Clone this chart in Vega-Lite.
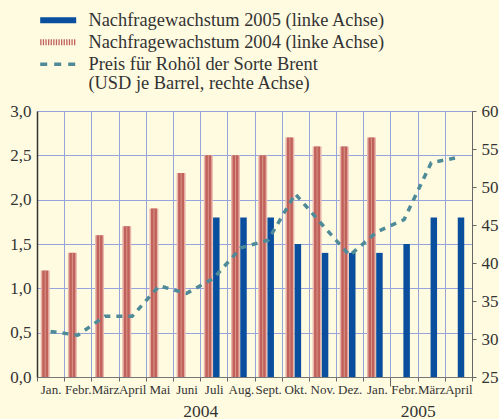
{
  "$schema": "https://vega.github.io/schema/vega-lite/v6.json",
  "width": 435,
  "height": 266,
  "autosize": {"type": "none"},
  "padding": {"left": 37, "top": 111, "right": 27, "bottom": 42},
  "background": "#fffbe1",
  "config": {
    "view": {"stroke": null},
    "font": "Liberation Serif",
    "axis": {"labelFont": "Liberation Serif", "labelColor": "#333333", "titleFont": "Liberation Serif"},
    "legend": {"labelFont": "Liberation Serif"}
  },
  "data": {
    "values": [
      {"month": "Jan. 2004", "series": "Nachfragewachstum 2004 (linke Achse)", "value": 1.2},
      {"month": "Febr. 2004", "series": "Nachfragewachstum 2004 (linke Achse)", "value": 1.4},
      {"month": "März 2004", "series": "Nachfragewachstum 2004 (linke Achse)", "value": 1.6},
      {"month": "April 2004", "series": "Nachfragewachstum 2004 (linke Achse)", "value": 1.7},
      {"month": "Mai 2004", "series": "Nachfragewachstum 2004 (linke Achse)", "value": 1.9},
      {"month": "Juni 2004", "series": "Nachfragewachstum 2004 (linke Achse)", "value": 2.3},
      {"month": "Juli 2004", "series": "Nachfragewachstum 2004 (linke Achse)", "value": 2.5},
      {"month": "Aug. 2004", "series": "Nachfragewachstum 2004 (linke Achse)", "value": 2.5},
      {"month": "Sept. 2004", "series": "Nachfragewachstum 2004 (linke Achse)", "value": 2.5},
      {"month": "Okt. 2004", "series": "Nachfragewachstum 2004 (linke Achse)", "value": 2.7},
      {"month": "Nov. 2004", "series": "Nachfragewachstum 2004 (linke Achse)", "value": 2.6},
      {"month": "Dez. 2004", "series": "Nachfragewachstum 2004 (linke Achse)", "value": 2.6},
      {"month": "Jan. 2005", "series": "Nachfragewachstum 2004 (linke Achse)", "value": 2.7},
      {"month": "Juli 2004", "series": "Nachfragewachstum 2005 (linke Achse)", "value": 1.8},
      {"month": "Aug. 2004", "series": "Nachfragewachstum 2005 (linke Achse)", "value": 1.8},
      {"month": "Sept. 2004", "series": "Nachfragewachstum 2005 (linke Achse)", "value": 1.8},
      {"month": "Okt. 2004", "series": "Nachfragewachstum 2005 (linke Achse)", "value": 1.5},
      {"month": "Nov. 2004", "series": "Nachfragewachstum 2005 (linke Achse)", "value": 1.4},
      {"month": "Dez. 2004", "series": "Nachfragewachstum 2005 (linke Achse)", "value": 1.4},
      {"month": "Jan. 2005", "series": "Nachfragewachstum 2005 (linke Achse)", "value": 1.4},
      {"month": "Febr. 2005", "series": "Nachfragewachstum 2005 (linke Achse)", "value": 1.5},
      {"month": "März 2005", "series": "Nachfragewachstum 2005 (linke Achse)", "value": 1.8},
      {"month": "April 2005", "series": "Nachfragewachstum 2005 (linke Achse)", "value": 1.8},
      {"month": "Jan. 2004", "series": "Preis für Rohöl der Sorte Brent", "value": 31.0},
      {"month": "Febr. 2004", "series": "Preis für Rohöl der Sorte Brent", "value": 30.5},
      {"month": "März 2004", "series": "Preis für Rohöl der Sorte Brent", "value": 33.0},
      {"month": "April 2004", "series": "Preis für Rohöl der Sorte Brent", "value": 33.0},
      {"month": "Mai 2004", "series": "Preis für Rohöl der Sorte Brent", "value": 37.0},
      {"month": "Juni 2004", "series": "Preis für Rohöl der Sorte Brent", "value": 36.0},
      {"month": "Juli 2004", "series": "Preis für Rohöl der Sorte Brent", "value": 38.0},
      {"month": "Aug. 2004", "series": "Preis für Rohöl der Sorte Brent", "value": 42.0},
      {"month": "Sept. 2004", "series": "Preis für Rohöl der Sorte Brent", "value": 43.0},
      {"month": "Okt. 2004", "series": "Preis für Rohöl der Sorte Brent", "value": 49.1},
      {"month": "Nov. 2004", "series": "Preis für Rohöl der Sorte Brent", "value": 45.0},
      {"month": "Dez. 2004", "series": "Preis für Rohöl der Sorte Brent", "value": 41.0},
      {"month": "Jan. 2005", "series": "Preis für Rohöl der Sorte Brent", "value": 44.1},
      {"month": "Febr. 2005", "series": "Preis für Rohöl der Sorte Brent", "value": 45.7},
      {"month": "März 2005", "series": "Preis für Rohöl der Sorte Brent", "value": 53.2},
      {"month": "April 2005", "series": "Preis für Rohöl der Sorte Brent", "value": 53.9}
    ]
  },
  "layer": [
    {
      "encoding": {
        "x": {
          "field": "month", "type": "nominal",
          "scale": {"domain": ["Jan. 2004", "Febr. 2004", "März 2004", "April 2004", "Mai 2004", "Juni 2004", "Juli 2004", "Aug. 2004", "Sept. 2004", "Okt. 2004", "Nov. 2004", "Dez. 2004", "Jan. 2005", "Febr. 2005", "März 2005", "April 2005"], "paddingInner": 0, "paddingOuter": 0},
          "axis": {
            "title": null,
            "labelExpr": "isValid(datum.value) ? split(datum.value, ' ')[0] : ''",
            "labelAngle": 0,
            "labelOverlap": false,
            "labelFontSize": 13,
            "labelPadding": {"condition": {"test": "datum.value == 'Jan. 2005'", "value": -3}, "value": 2},
            "tickBand": "extent",
            "tickSize": {"condition": {"test": "datum.value == 'Jan. 2005'", "value": 9}, "value": 4},
            "tickColor": "#666666",
            "domainColor": "#777777",
            "grid": true,
            "gridColor": "#97a4dc",
            "gridOpacity": 1,
            "gridWidth": 1
          }
        }
      },
      "layer": [
        {
          "encoding": {
            "y": {
              "field": "value", "type": "quantitative",
              "scale": {"domain": [0, 3], "nice": false},
              "axis": {
                "title": null,
                "values": [0, 0.5, 1, 1.5, 2, 2.5, 3],
                "labelExpr": "replace(format(datum.value, '.1f'), '.', ',')",
                "labelFontSize": 17,
                "labelPadding": 6,
                "ticks": false,
                "domainColor": "#333333",
                "domainWidth": 1.5,
                "grid": true,
                "gridColor": "#97a4dc",
                "gridOpacity": 1,
                "gridWidth": 1
              }
            }
          },
          "layer": [
            {
              "transform": [{"filter": "datum.series == 'Nachfragewachstum 2004 (linke Achse)'"}],
              "mark": {"type": "bar", "width": 9, "xOffset": -5.4, "color": "#e9b6ad"}
            },
            {
              "transform": [{"filter": "datum.series == 'Nachfragewachstum 2004 (linke Achse)'"}],
              "mark": {"type": "bar", "width": 6, "xOffset": -5.4},
              "encoding": {
                "color": {
                  "field": "series", "type": "nominal",
                  "scale": {"domain": ["Nachfragewachstum 2005 (linke Achse)", "Nachfragewachstum 2004 (linke Achse)", "Preis für Rohöl der Sorte Brent", "(USD je Barrel, rechte Achse)"], "range": ["#0a4f9e", "#c0625a", "#4e8a98", "transparent"]},
                  "legend": {
                    "orient": "none",
                    "legendX": 0,
                    "legendY": -100,
                    "title": null,
                    "padding": 0,
                    "symbolType": "M-6,0H6",
                    "symbolSize": 36,
                    "symbolStrokeWidth": 6,
                    "symbolOffset": 12,
                    "labelOffset": 21,
                    "labelFont": "Liberation Serif",
                    "labelFontSize": 18.4,
                    "labelColor": "#333333",
                    "labelLimit": 1000,
                    "rowPadding": -6,
                    "encode": {
                      "symbols": {
                        "update": {
                          "fill": {"value": "transparent"},
                          "stroke": {"scale": "color", "field": "value"},
                          "strokeCap": {"value": "butt"},
                          "strokeWidth": {"signal": "datum.value == 'Preis für Rohöl der Sorte Brent' ? 3.5 : 6"},
                          "strokeDash": {"signal": "datum.value == 'Preis für Rohöl der Sorte Brent' ? [7, 7] : (datum.value == 'Nachfragewachstum 2004 (linke Achse)' ? [1.3, 1.3] : [50, 0])"}
                        }
                      }
                    }
                  }
                }
              }
            },
            {
              "transform": [{"filter": "datum.series == 'Nachfragewachstum 2004 (linke Achse)'"}],
              "mark": {"type": "bar", "width": 1, "xOffset": -5.4, "color": "#d9958b"}
            },
            {
              "transform": [{"filter": "datum.series == 'Nachfragewachstum 2005 (linke Achse)'"}],
              "mark": {"type": "bar", "width": 6.5, "xOffset": 2.6},
              "encoding": {
                "color": {"field": "series", "type": "nominal"}
              }
            }
          ]
        },
        {
          "transform": [{"filter": "datum.series == 'Preis für Rohöl der Sorte Brent'"}],
          "mark": {"type": "line", "strokeWidth": 3.5, "strokeDash": [6, 6], "strokeCap": "butt"},
          "encoding": {
            "y": {
              "field": "value", "type": "quantitative",
              "scale": {"domain": [25, 60], "nice": false, "zero": false},
              "axis": {
                "orient": "right",
                "title": null,
                "values": [25, 30, 35, 40, 45, 50, 55, 60],
                "labelFontSize": 17,
                "labelPadding": 5,
                "tickSize": 4,
                "tickColor": "#666666",
                "domainColor": "#666666",
                "grid": false
              }
            },
            "color": {"field": "series", "type": "nominal"}
          }
        }
      ],
      "resolve": {"scale": {"y": "independent"}}
    },
    {
      "data": {"values": [{"yr": "2004", "pos": 6}, {"yr": "2005", "pos": 14}]},
      "mark": {"type": "point", "opacity": 0},
      "encoding": {
        "x": {
          "field": "pos", "type": "quantitative",
          "scale": {"domain": [0, 16], "nice": false, "zero": false},
          "axis": {
            "orient": "bottom",
            "title": null,
            "values": [6, 14],
            "labelExpr": "datum.value == 6 ? '2004' : '2005'",
            "labelFontSize": 17.5,
            "labelColor": "#333333",
            "labelPadding": 25,
            "domain": false,
            "ticks": false,
            "grid": false
          }
        }
      }
    }
  ],
  "resolve": {"scale": {"x": "independent"}}
}
